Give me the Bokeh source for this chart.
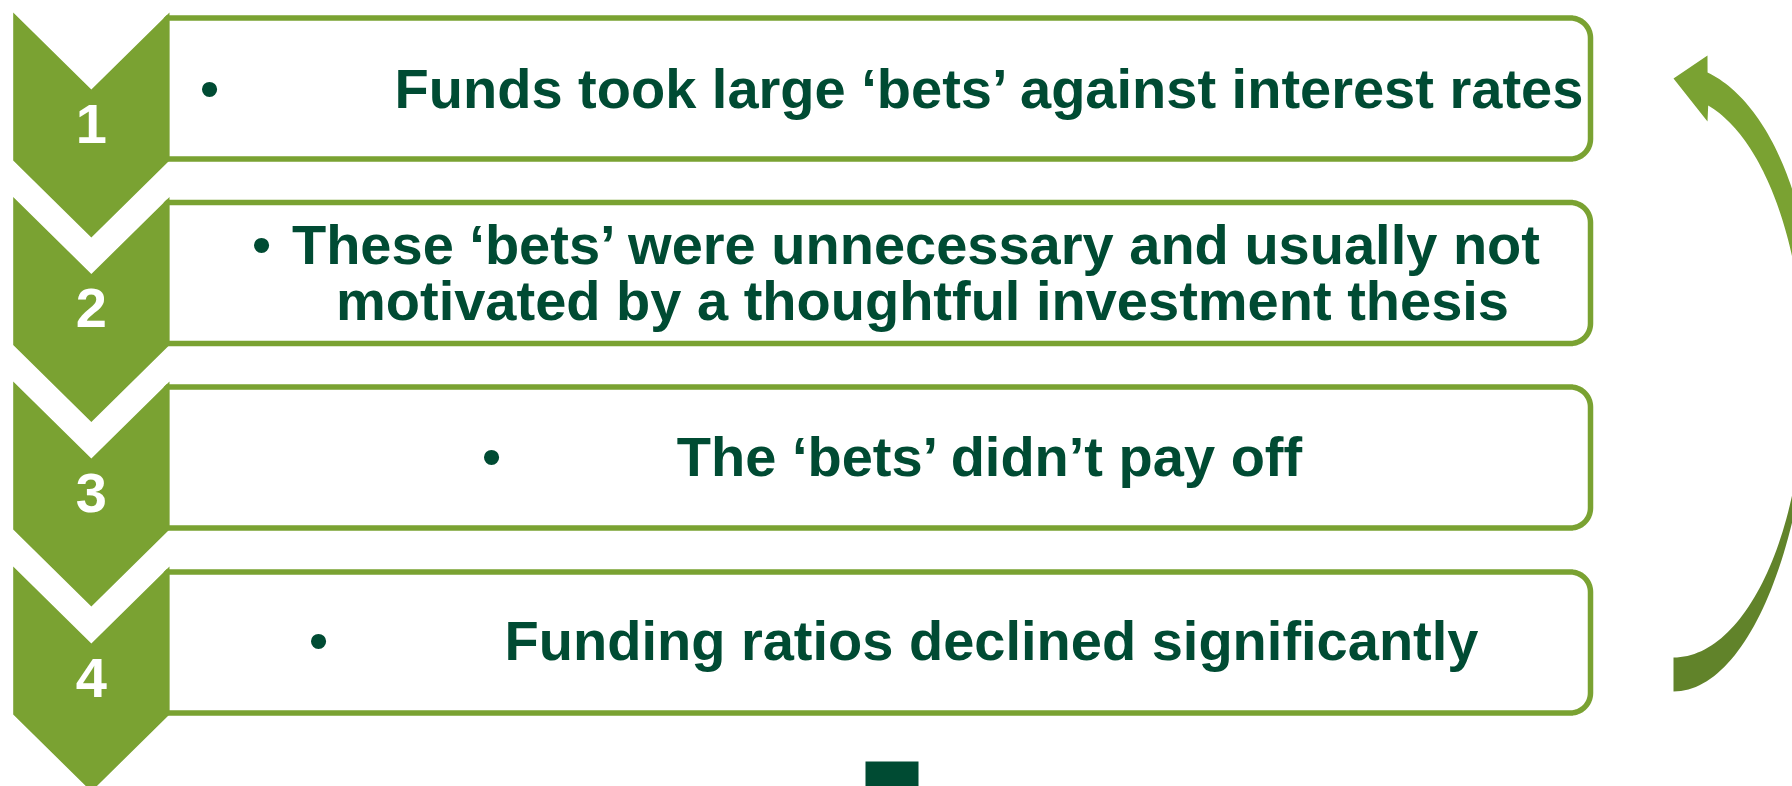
import numpy as np
from bokeh.plotting import figure
from bokeh.models import Range1d, ColumnDataSource
from bokeh.core.properties import value
from bokeh.embed import file_html
from bokeh.resources import INLINE

# ---------------- content ----------------
step_numbers = ["1", "2", "3", "4"]
line_texts = [
    "Funds took large \u2018bets\u2019 against interest rates",
    "These \u2018bets\u2019 were unnecessary and usually not",
    "motivated by a thoughtful investment thesis",
    "The \u2018bets\u2019 didn\u2019t pay off",
    "Funding ratios declined significantly",
]
line_step = [0, 1, 1, 2, 3]          # which step each text line belongs to

# ---------------- layout (screen px) ----------------
GREEN = "#7AA232"
DARK_GREEN_ARROW = "#61832A"
TEXT = "#004B33"
FONT = value("Liberation Sans")
FS = "56px"
TEXT_DY = -17   # renderer baseline correction

W, H = 1792, 786
chev_top = [12, 196.5, 381, 566]
chev_x0, chev_x1 = 12.7, 169.0
chev_side = 148
chev_depth = 77
box_right = 1590
box_radius = 20
line_center_x = [990, 917, 922, 990.5, 991]
line_baseline = [105, 261, 317, 473, 657]
bullet_x = [209, 261, None, 491, 318]

p = figure(width=W, height=H, x_range=Range1d(0, W), y_range=Range1d(H, 0),
           output_backend="svg", toolbar_location=None, min_border=0)
p.axis.visible = False
p.grid.visible = False
p.outline_line_color = None
p.background_fill_color = "white"
p.border_fill_color = "white"


def box_path(x0, y0, x1, y1, r, n=16):
    # square on the left (hidden under the chevron), rounded on the right
    xs, ys = [x0], [y0]
    for cx, cy, a0, a1 in [(x1 - r, y0 + r, -np.pi / 2, 0), (x1 - r, y1 - r, 0, np.pi / 2)]:
        t = np.linspace(a0, a1, n)
        xs.extend(cx + r * np.cos(t))
        ys.extend(cy + r * np.sin(t))
    xs.append(x0)
    ys.append(y1)
    return xs, ys


# boxes
bx, by = [], []
for t in chev_top:
    xs, ys = box_path(166, t + 5.5, box_right, t + 146.5, box_radius)
    bx.append(xs)
    by.append(ys)
p.patches(bx, by, fill_color="white", line_color=GREEN, line_width=5.5)

# chevrons
cx, cy = [], []
mid = (chev_x0 + chev_x1) / 2
for t in chev_top:
    cx.append([chev_x0, mid, chev_x1, chev_x1, mid, chev_x0])
    cy.append([t, t + chev_depth, t, t + chev_side, t + chev_side + chev_depth, t + chev_side])
p.patches(cx, cy, fill_color=GREEN, line_color=None)

# step numbers
p.text(x=[mid] * 4, y=[t + 128 + TEXT_DY for t in chev_top], text=step_numbers,
       text_color="white", text_font=FONT, text_font_style="bold", text_font_size=FS,
       text_align="center", text_baseline="alphabetic")

# texts
src = ColumnDataSource(dict(x=line_center_x, y=[b + TEXT_DY for b in line_baseline],
                            text=line_texts))
p.text(x="x", y="y", text="text", source=src, text_color=TEXT, text_font=FONT,
       text_font_style="bold", text_font_size=FS, text_align="center",
       text_baseline="alphabetic")

bxs = [b for b in bullet_x if b is not None]
bys = [line_baseline[i] + TEXT_DY for i, b in enumerate(bullet_x) if b is not None]
p.text(x=bxs, y=bys, text=["\u2022"] * len(bxs), text_color=TEXT, text_font=FONT,
       text_font_size=FS, text_align="center", text_baseline="alphabetic")

# curved arrow
acx = 1673
o_c, o_r, o_ru, o_rl, o_top = 330, 140, 266, 361, 72
i_c, i_r, i_ru, i_rl, i_top = 375, 131, 280, 282, 105
n = 60
th_o = np.arcsin((o_c - o_top) / o_ru)
th_i = np.arcsin((i_c - i_top) / i_ru)
t_o = np.linspace(th_o, 0, n)
t_i = np.linspace(0, th_i, n)
ux = list(acx + o_r * np.cos(t_o)) + list(acx + i_r * np.cos(t_i)) + [1707, 1673, 1707]
uy = list(o_c - o_ru * np.sin(t_o)) + list(i_c - i_ru * np.sin(t_i)) + [121, 78, 55]
f_o = np.linspace(0, np.pi / 2, n)
f_i = np.linspace(np.pi / 2, 0, n)
lx = list(acx + o_r * np.cos(f_o)) + list(acx + i_r * np.cos(f_i))
ly = list(o_c + o_rl * np.sin(f_o)) + list(i_c + i_rl * np.sin(f_i))
p.patch(ux, uy, fill_color=GREEN, line_color=None)
p.patch(lx, ly, fill_color=DARK_GREEN_ARROW, line_color=None)

# small footer block
p.quad(left=[865], right=[918], top=[761], bottom=[800], fill_color=TEXT, line_color=None)

open("out.html", "w").write(file_html(p, INLINE))
